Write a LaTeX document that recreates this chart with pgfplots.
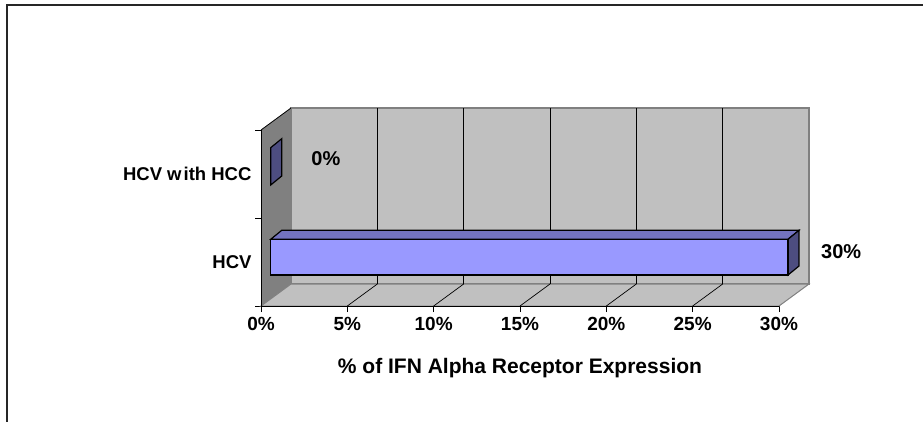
\documentclass[border=0pt]{standalone}
\usepackage{pgfplots}
\pgfplotsset{compat=1.18}
\usepackage{fontspec}
\setmainfont{Liberation Sans}
\definecolor{wallback}{HTML}{C0C0C0}
\definecolor{wallside}{HTML}{808080}
\definecolor{barfront}{HTML}{9999FF}
\definecolor{bartop}{HTML}{7373C0}
\definecolor{barside}{HTML}{4D4D80}
\begin{document}
\begin{tikzpicture}[x=1pt,y=1pt]
\useasboundingbox (0,0) rectangle (923,421);
\draw[line width=1.4pt,black!85] (7,-5) -- (7,416) -- (930,416);
\begin{axis}[
  at={(261pt,115pt)}, anchor=south west,
  scale only axis, width=518pt, height=176pt,
  xmin=0, xmax=30, ymin=0, ymax=2,
  clip=false,
  axis line style={draw=none},
  tick align=outside, major tick length=6pt,
  xtick pos=left, ytick pos=left,
  xtick={0,5,...,30},
  xticklabels={0\%,5\%,10\%,15\%,20\%,25\%,30\%},
  ytick={0,1,2}, yticklabels={,,},
  extra y ticks={0.5,1.5},
  extra y tick labels={HCV\hspace{6pt},HCV w\hspace{2pt}ith HCC},
  extra y tick style={major tick length=0pt, yticklabel style={xshift=-6pt}},
  tick style={black, line width=0.8pt},
  xticklabel style={font=\fontsize{19}{21}\selectfont\bfseries, yshift=-2pt},
  yticklabel style={font=\fontsize{18.5}{21}\selectfont\bfseries},
  xlabel={\% of IFN Alpha Receptor Expression},
  xlabel style={at={(axis description cs:0.5,-0.352)}, anchor=center,
    font=\fontsize{21}{23}\selectfont\bfseries},
]
% walls and floor
\fill[wallside] (axis cs:0,0) -- (axis cs:1.737,0.25) -- (axis cs:1.737,2.25) -- (axis cs:0,2) -- cycle;
\filldraw[fill=wallback, draw=wallside, line width=1.5pt] (axis cs:1.737,0.25) rectangle (axis cs:31.737,2.25);
\filldraw[fill=wallback, draw=wallside, line width=1pt] (axis cs:0,0) -- (axis cs:30,0) -- (axis cs:31.737,0.25) -- (axis cs:1.737,0.25) -- cycle;
% grid lines on back wall and floor
\draw[black, line width=0.7pt] (axis cs:6.737,0.25) -- (axis cs:6.737,2.25);
\draw[black, line width=0.7pt] (axis cs:11.737,0.25) -- (axis cs:11.737,2.25);
\draw[black, line width=0.7pt] (axis cs:16.737,0.25) -- (axis cs:16.737,2.25);
\draw[black, line width=0.7pt] (axis cs:21.737,0.25) -- (axis cs:21.737,2.25);
\draw[black, line width=0.7pt] (axis cs:26.737,0.25) -- (axis cs:26.737,2.25);
\draw[black, line width=0.7pt] (axis cs:5,0) -- (axis cs:6.737,0.25);
\draw[black, line width=0.7pt] (axis cs:10,0) -- (axis cs:11.737,0.25);
\draw[black, line width=0.7pt] (axis cs:15,0) -- (axis cs:16.737,0.25);
\draw[black, line width=0.7pt] (axis cs:20,0) -- (axis cs:21.737,0.25);
\draw[black, line width=0.7pt] (axis cs:25,0) -- (axis cs:26.737,0.25);
\draw[black, line width=0.8pt] (axis cs:0,2) -- (axis cs:1.737,2.25);
\draw[black, line width=0.9pt] (axis cs:0,2) -- (axis cs:0,0) -- (axis cs:30,0);
% HCV bar (30%)
\addplot[fill=bartop, draw=black, line width=1.2pt] coordinates {(0.562,0.758) (30.52,0.758) (31.157,0.860) (1.199,0.860)} -- cycle;
\addplot[fill=barside, draw=black, line width=1.2pt] coordinates {(30.52,0.352) (30.52,0.758) (31.157,0.860) (31.157,0.454)} -- cycle;
\addplot[fill=barfront, draw=black, line width=1.2pt] coordinates {(0.562,0.352) (30.52,0.352) (30.52,0.758) (0.562,0.758)} -- cycle;
% HCV with HCC bar (0%)
\addplot[fill=barside, draw=black, line width=1.2pt] coordinates {(0.562,1.375) (0.562,1.799) (1.199,1.901) (1.199,1.477)} -- cycle;
% data labels
\node[font=\fontsize{20}{22}\selectfont\bfseries] at (axis cs:3.76,1.68) {0\%};
\node[font=\fontsize{20}{22}\selectfont\bfseries] at (axis cs:33.6,0.614) {30\%};
\end{axis}
\end{tikzpicture}
\end{document}
